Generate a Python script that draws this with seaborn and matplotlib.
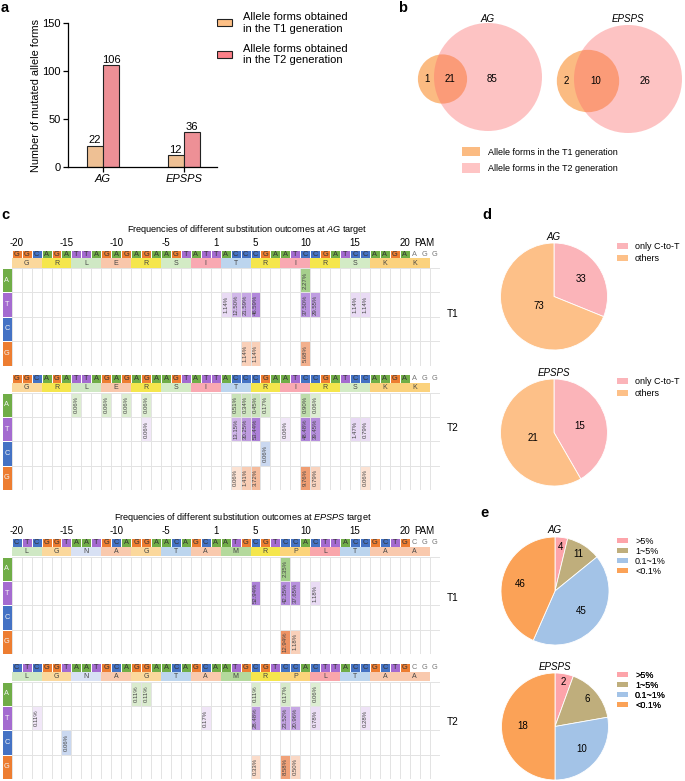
import numpy as np
import pandas as pd
import matplotlib
matplotlib.use("Agg")
import matplotlib.pyplot as plt
import seaborn as sns
from matplotlib.colors import ListedColormap, LinearSegmentedColormap
from matplotlib.patches import Circle, Patch

plt.rcParams["font.family"] = ["Liberation Sans", "DejaVu Sans"]
plt.rcParams["mathtext.fontset"] = "custom"
plt.rcParams["mathtext.rm"] = "Liberation Sans"
plt.rcParams["mathtext.it"] = "Liberation Sans:italic"

W, H = 685, 781

# ---------------- data ----------------
genes = ["AG", "EPSPS"]
t1_alleles = [22, 12]
t2_alleles = [106, 36]

venn_only_t1 = [1, 2]
venn_shared = [21, 10]
venn_only_t2 = [85, 26]

ag_seq = "GGCAGATTAGAGAGAAGTATTACCCGAATCCGATCCAAGA"
ag_pam = "AGG"
ag_aa = ["G", "R", "L", "E", "R", "S", "I", "T", "R", "I", "R", "S", "K", "K"]
epsps_seq = "CTCGGTAATGCAGGAACAGCAATGCGTCCACTTACCGCTG"
epsps_pam = "CGG"
epsps_aa = ["L", "G", "N", "A", "G", "T", "A", "M", "R", "P", "L", "T", "A", "A"]

# substitution frequencies (%): (new base, position in target, value)
ag_t1 = [("A", 10, 2.27),
         ("T", 2, 1.14), ("T", 3, 12.50), ("T", 4, 21.59), ("T", 5, 46.59),
         ("T", 10, 37.50), ("T", 11, 29.55), ("T", 15, 1.14), ("T", 16, 1.14),
         ("G", 4, 1.14), ("G", 5, 1.14), ("G", 10, 5.68)]
ag_t2 = [("A", -14, 0.06), ("A", -11, 0.06), ("A", -9, 0.06), ("A", -7, 0.06),
         ("A", 3, 0.51), ("A", 4, 0.34), ("A", 5, 0.45), ("A", 6, 0.17),
         ("A", 10, 0.90), ("A", 11, 0.06),
         ("T", -7, 0.06), ("T", 3, 13.15), ("T", 4, 30.25), ("T", 5, 53.44),
         ("T", 8, 0.06), ("T", 10, 48.48), ("T", 11, 39.45), ("T", 15, 1.47), ("T", 16, 0.79),
         ("C", 6, 0.06),
         ("G", 3, 0.06), ("G", 4, 1.41), ("G", 5, 3.72), ("G", 10, 9.76), ("G", 11, 0.79),
         ("G", 16, 0.06)]
epsps_t1 = [("A", 8, 2.35),
            ("T", 5, 52.94), ("T", 8, 42.35), ("T", 9, 37.65), ("T", 11, 1.18),
            ("G", 8, 12.94), ("G", 9, 1.18)]
epsps_t2 = [("A", -8, 0.11), ("A", -7, 0.11), ("A", 5, 0.11), ("A", 8, 0.17), ("A", 11, 0.06),
            ("T", -18, 0.11), ("T", -1, 0.17), ("T", 5, 28.48), ("T", 8, 23.52),
            ("T", 9, 20.96), ("T", 11, 0.78), ("T", 16, 0.28),
            ("C", -15, 0.06),
            ("G", 5, 0.33), ("G", 8, 8.58), ("G", 9, 0.50)]

ct_labels = ["only C-to-T", "others"]
ag_ct = [33, 73]
epsps_ct = [15, 21]

freq_labels = [">5%", "1~5%", "0.1~1%", "<0.1%"]
ag_freq = [4, 11, 45, 46]
epsps_freq = [2, 6, 10, 18]

tick_positions = [-20, -15, -10, -5, 1, 5, 10, 15, 20]

# ---------------- style ----------------
bases = ["A", "T", "C", "G"]
base_colors = {"A": "#70ad47", "T": "#a46bd0", "C": "#4472c4", "G": "#ed7d31"}
grad_lo = {"A": "#e8f3e0", "T": "#f3eaf9", "C": "#dde6f5", "G": "#fde9dc"}
grad_hi = {"A": "#9cca80", "T": "#ac80d8", "C": "#8eabde", "G": "#ee9060"}
grad_scale = {"A": 3, "T": 55, "C": 1, "G": 14}

ag_aa_colors = ["#fbd89c", "#f5e64c", "#cfe8c4", "#f9c7ab", "#f5e64c", "#d3ebc5", "#f9a9b2",
                "#bcd5ee", "#f5e64c", "#f9a9b2", "#f5e64c", "#d3ebc5", "#fbd27d", "#fbd27d"]
epsps_aa_colors = ["#cfe8c4", "#fbd89c", "#d8e1f4", "#f9c9ad", "#fbd89c", "#bcd5ee", "#f9c9ad",
                   "#b4d99c", "#f5e64c", "#fcd47a", "#f9a6ab", "#bcd5ee", "#f9c9ad", "#f9c9ad"]

N = 64
cols = [(1, 1, 1, 1)] * N
for b in bases:
    cm = LinearSegmentedColormap.from_list("g" + b, [grad_lo[b], grad_hi[b]])
    cols += [cm(i / (N - 1)) for i in range(N)]
grid_cmap = ListedColormap(cols)

fig = plt.figure(figsize=(W / 100, H / 100), dpi=100)
ov = fig.add_axes([0, 0, 1, 1])
ov.set_xlim(0, W)
ov.set_ylim(H, 0)
ov.axis("off")


def px_axes(x, y, w, h):
    return fig.add_axes([x / W, 1 - (y + h) / H, w / W, h / H])


def pos_to_col(p):
    return p + 20 if p < 0 else p + 19


# ---------------- a ----------------
df_a = pd.DataFrame({"gene": genes * 2,
                     "count": t1_alleles + t2_alleles,
                     "gen": ["T1"] * 2 + ["T2"] * 2})
bar_colors = ["#fdbf85", "#fd8088"]
ax_a = px_axes(68, 23, 149, 144)
sns.barplot(data=df_a, x="gene", y="count", hue="gen", palette=bar_colors, width=0.4,
            gap=0, edgecolor="#222222", linewidth=0.8, errorbar=None, legend=False, ax=ax_a)
for c in ax_a.containers:
    ax_a.bar_label(c, fontsize=8, padding=0.5)
ax_a.set_xlim(-0.43, 1.41)
ax_a.set_ylim(0, 150)
ax_a.set_yticks([0, 50, 100, 150])
sns.despine(ax=ax_a)
for s in ["left", "bottom"]:
    ax_a.spines[s].set_linewidth(0.9)
ax_a.tick_params(labelsize=8, length=3.5, width=0.9, pad=1.5)
for t in ax_a.get_xticklabels():
    t.set_style("italic")
ax_a.set_xlabel("")
ax_a.set_ylabel("Number of mutated allele forms", fontsize=7.8)
ax_a.yaxis.set_label_coords(-0.18, 0.5)
leg = ov.legend(handles=[Patch(facecolor=bar_colors[0], edgecolor="#222222", linewidth=0.8),
                         Patch(facecolor=bar_colors[1], edgecolor="#222222", linewidth=0.8)],
                labels=["Allele forms obtained\nin the T1 generation",
                        "Allele forms obtained\nin the T2 generation"],
                loc="upper left", bbox_to_anchor=(217, 12), bbox_transform=ov.transData,
                frameon=False, fontsize=8, borderpad=0, borderaxespad=0, handlelength=1.35,
                handleheight=0.6, handletextpad=1.0, labelspacing=0.9)
ov.add_artist(leg)

# ---------------- b ----------------
ax_b = px_axes(380, 0, 305, 200)
ax_b.set_xlim(380, 685)
ax_b.set_ylim(200, 0)
ax_b.axis("off")
venn_big = [(488, 77), (628, 79)]
venn_small = [(442.5, 79), (588, 81)]
venn_text_x = [(427, 450, 492), (566, 596, 645)]
r_big = 54
for i in range(2):
    n1 = venn_only_t1[i] + venn_shared[i]
    n2 = venn_only_t2[i] + venn_shared[i]
    r_small = r_big * np.sqrt(n1 / n2)
    ax_b.add_patch(Circle(venn_small[i], r_small, facecolor="#fbbb82", edgecolor="none", zorder=1))
    ax_b.add_patch(Circle(venn_big[i], r_big, facecolor="#fc6b6b", alpha=0.4, edgecolor="none", zorder=2))
    for x, v in zip(venn_text_x[i], [venn_only_t1[i], venn_shared[i], venn_only_t2[i]]):
        ax_b.text(x, venn_small[i][1], str(v), ha="center", va="center", fontsize=7, zorder=3)
    ax_b.text(venn_big[i][0], 19, genes[i], ha="center", va="center", fontsize=7, style="italic")
leg = ov.legend(handles=[Patch(facecolor="#fbbb82"), Patch(facecolor="#fec4c4")],
                labels=["Allele forms in the T1 generation", "Allele forms in the T2 generation"],
                loc="upper left", bbox_to_anchor=(462, 147), bbox_transform=ov.transData,
                frameon=False, fontsize=6.5, borderpad=0, borderaxespad=0, handlelength=2.0,
                handleheight=1.2, handletextpad=0.9, labelspacing=0.75)
ov.add_artist(leg)

# ---------------- c ----------------
X0, CW = 11.7, 9.95


def draw_block(seq, pam, aa, aa_cols, subs, y0, ticks):
    ncol = len(seq) + len(pam)
    letters = np.array([list(seq + pam)])
    codes = np.array([[bases.index(ch) if i < len(seq) else 4 for i, ch in enumerate(seq + pam)]])
    ax = px_axes(X0, y0, ncol * CW, 9)
    sns.heatmap(codes, cmap=ListedColormap([base_colors[b] for b in bases] + ["white"]),
                vmin=-0.5, vmax=4.5, annot=letters, fmt="",
                annot_kws=dict(fontsize=5.3, color="#333333"), cbar=False,
                linewidths=0.4, linecolor="white", xticklabels=False, yticklabels=False, ax=ax)
    for i, t in enumerate(ax.texts):
        if i >= len(seq):
            t.set_color("#777777")
    if ticks:
        ax.set_xticks([pos_to_col(p) + 0.5 for p in tick_positions] + [len(seq) + 1.5])
        ax.set_xticklabels([str(p) for p in tick_positions] + ["PAM"])
        ax.xaxis.tick_top()
        ax.tick_params(axis="x", length=0, pad=1.2, labelsize=7)

    # amino acid row
    aa_idx = np.array([[i // 3 if i // 3 < len(aa) else -1 for i in range(ncol)]])
    aa_ann = np.array([[aa[i // 3] if (i % 3 == 1 and i // 3 < len(aa)) else "" for i in range(ncol)]])
    ax = px_axes(X0, y0 + 9, ncol * CW, 9.3)
    sns.heatmap(aa_idx + 1, cmap=ListedColormap(["white"] + aa_cols), vmin=-0.5,
                vmax=len(aa) + 0.5, annot=aa_ann, fmt="",
                annot_kws=dict(fontsize=5, color="#444444"), cbar=False, linewidths=0,
                xticklabels=False, yticklabels=False, ax=ax)

    # row header
    ax = px_axes(2, y0 + 18.5, 9.7, 97.5)
    sns.heatmap(np.arange(4).reshape(4, 1), cmap=ListedColormap([base_colors[b] for b in bases]),
                vmin=-0.5, vmax=3.5, annot=np.array(bases).reshape(4, 1), fmt="",
                annot_kws=dict(fontsize=5.3, color="#f4f4f4"), cbar=False, linewidths=0.5,
                linecolor="white", xticklabels=False, yticklabels=False, ax=ax)

    # substitution grid
    vals = np.zeros((4, ncol))
    for b, p, v in subs:
        vals[bases.index(b), pos_to_col(p)] = v
    enc = np.full((4, ncol), 0.5)
    ann = np.full((4, ncol), "", dtype=object)
    for r, b in enumerate(bases):
        for c in range(ncol):
            v = vals[r, c]
            if v > 0:
                enc[r, c] = 1 + r + min(0.999, np.sqrt(v / grad_scale[b]))
                ann[r, c] = f"{v:.2f}%"
    ax = px_axes(X0, y0 + 18.5, ncol * CW, 97.5)
    sns.heatmap(enc, cmap=grid_cmap, vmin=0, vmax=5, annot=ann, fmt="",
                annot_kws=dict(rotation=90, fontsize=4.3, color="#444444"), cbar=False,
                linewidths=0.5, linecolor="#e3e3e3", xticklabels=False, yticklabels=False, ax=ax)


draw_block(ag_seq, ag_pam, ag_aa, ag_aa_colors, ag_t1, 249.5, True)
draw_block(ag_seq, ag_pam, ag_aa, ag_aa_colors, ag_t2, 374, False)
draw_block(epsps_seq, epsps_pam, epsps_aa, epsps_aa_colors, epsps_t1, 538, True)
draw_block(epsps_seq, epsps_pam, epsps_aa, epsps_aa_colors, epsps_t2, 663, False)

ov.text(247, 230, r"Frequencies of different substitution outcomes at $\mathit{AG}$ target",
        ha="center", va="center", fontsize=6.6)
ov.text(243, 517, r"Frequencies of different substitution outcomes at $\mathit{EPSPS}$ target",
        ha="center", va="center", fontsize=6.6)
for y, lab in [(314, "T1"), (428, "T2"), (598, "T1"), (722, "T2")]:
    ov.text(447, y, lab, ha="left", va="center", fontsize=7.2)

# ---------------- d / e ----------------
ct_colors = ["#fbb4b9", "#fdc088"]
freq_colors = ["#fda4aa", "#bfae7c", "#a3c3e7", "#fba257"]


def draw_pie(cx, cy, r, values, colors, label_r, title, title_y):
    ax = px_axes(cx - r * 1.02, cy - r * 1.02, 2.04 * r, 2.04 * r)
    wedges, _ = ax.pie(values, colors=colors, startangle=90, counterclock=False,
                       wedgeprops=dict(edgecolor="white", linewidth=0.6))
    ax.set_xlim(-1.02, 1.02)
    ax.set_ylim(-1.02, 1.02)
    for v, lr, w in zip(values, label_r, wedges):
        ang = np.deg2rad((w.theta1 + w.theta2) / 2)
        ax.text(lr * np.cos(ang), lr * np.sin(ang), str(v), ha="center", va="center", fontsize=7)
    ov.text(cx, title_y, title, ha="center", va="center", fontsize=7, style="italic")


def pie_legend(labels, colors, y, spacing):
    lg = ov.legend(handles=[Patch(facecolor=c) for c in colors], labels=labels,
                   loc="upper left", bbox_to_anchor=(617, y), bbox_transform=ov.transData,
                   frameon=False, fontsize=6.5, borderpad=0, borderaxespad=0, handlelength=1.2,
                   handleheight=0.55, handletextpad=0.8, labelspacing=spacing)
    ov.add_artist(lg)


draw_pie(554, 296.5, 53.5, ag_ct, ct_colors, [0.6, 0.33], "AG", 237)
draw_pie(554, 432.5, 53.5, epsps_ct, ct_colors, [0.5, 0.4], "EPSPS", 373)
pie_legend(ct_labels, ct_colors, 242, 0.35)
pie_legend(ct_labels, ct_colors, 377, 0.35)

draw_pie(555, 591, 54, ag_freq, freq_colors, [0.82, 0.82, 0.62, 0.66], "AG", 530)
draw_pie(555, 726.5, 53.5, epsps_freq, freq_colors, [0.84, 0.79, 0.65, 0.6], "EPSPS", 667)
pie_legend(freq_labels, freq_colors, 536.5, 0.12)
pie_legend(freq_labels, freq_colors, 670.5, 0.12)

# panel letters
for x, y, lab in [(5, 8, "a"), (403, 8, "b"), (5, 215, "c"), (487, 215, "d"), (485, 513, "e")]:
    ov.text(x, y, lab, ha="center", va="center", fontsize=10.5, fontweight="bold")

fig.savefig("out.png", dpi=100)
